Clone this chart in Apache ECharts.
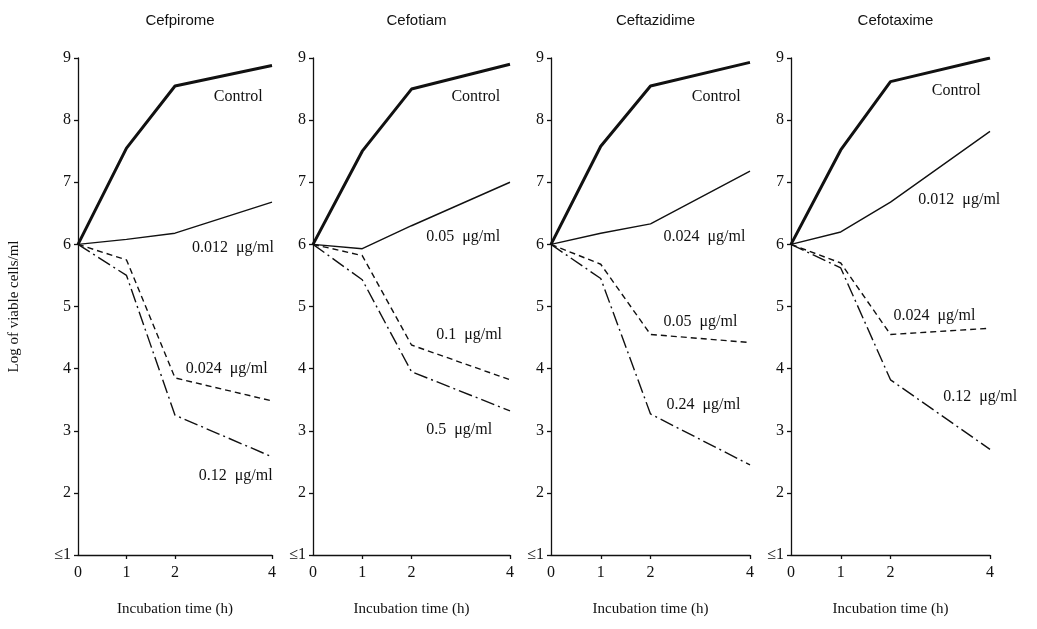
<!DOCTYPE html>
<html lang="en">
<head>
<meta charset="UTF-8">
<title>Time-kill curves</title>
<style>
  html, body { margin: 0; padding: 0; background: #fff; }
  #chart { width: 1037px; height: 629px; }
</style>
</head>
<body>
<div id="chart"></div>
<script src="https://cdn.jsdelivr.net/npm/echarts@6/dist/echarts.min.js"></script>
<script>
// incubation time points (h)
var times = [0, 1, 2, 4];
var drugs = ['Cefpirome', 'Cefotiam', 'Ceftazidime', 'Cefotaxime'];

// log of viable cells/ml, one row per drug
var control = [
    [6, 7.55, 8.55, 8.88],
    [6, 7.5, 8.5, 8.9],
    [6, 7.58, 8.55, 8.93],
    [6, 7.52, 8.62, 9.0]
];
var lowDose = [
    [6, 6.08, 6.18, 6.68],
    [6, 5.93, 6.3, 7.0],
    [6, 6.18, 6.33, 7.18],
    [6, 6.2, 6.68, 7.82]
];
var midDose = [
    [6, 5.75, 3.85, 3.48],
    [6, 5.82, 4.38, 3.82],
    [6, 5.68, 4.55, 4.42],
    [6, 5.7, 4.55, 4.65]
];
var highDose = [
    [6, 5.5, 3.25, 2.58],
    [6, 5.43, 3.95, 3.32],
    [6, 5.45, 3.27, 2.45],
    [6, 5.62, 3.82, 2.7]
];
var lowName = ['0.012  \u03bcg/ml', '0.05  \u03bcg/ml', '0.024  \u03bcg/ml', '0.012  \u03bcg/ml'];
var midName = ['0.024  \u03bcg/ml', '0.1  \u03bcg/ml', '0.05  \u03bcg/ml', '0.024  \u03bcg/ml'];
var highName = ['0.12  \u03bcg/ml', '0.5  \u03bcg/ml', '0.24  \u03bcg/ml', '0.12  \u03bcg/ml'];

// layout: grid boxes and where the curve labels sit (data coords)
var gridLeft = [78, 313, 551, 791];
var gridWidth = [194, 197, 199, 199];
var labelAt = [
    [[2.8, 8.38], [2.35, 5.95], [2.22, 3.99], [2.49, 2.28]],
    [[2.81, 8.38], [2.3, 6.13], [2.5, 4.55], [2.3, 3.02]],
    [[2.83, 8.38], [2.26, 6.13], [2.26, 4.75], [2.32, 3.42]],
    [[2.83, 8.47], [2.56, 6.72], [2.06, 4.85], [3.06, 3.55]]
];

var serif = 'Liberation Serif';
var ink = '#111';

function pairs(vals) {
    return times.map(function (t, i) { return [t, vals[i]]; });
}

function curve(p, name, vals, width, dash, labelPos) {
    return {
        type: 'line',
        name: name,
        xAxisIndex: p,
        yAxisIndex: p,
        data: pairs(vals),
        symbol: 'none',
        silent: true,
        animation: false,
        lineStyle: { color: ink, width: width, type: dash },
        markPoint: {
            symbol: 'circle',
            symbolSize: 0,
            silent: true,
            label: {
                show: true,
                position: 'right',
                distance: 0,
                color: ink,
                fontFamily: serif,
                fontSize: 16,
                formatter: name
            },
            data: [{ coord: labelPos }]
        }
    };
}

var grids = [], xAxes = [], yAxes = [], titles = [], series = [];
for (var p = 0; p < 4; p++) {
    grids.push({ left: gridLeft[p], width: gridWidth[p], top: 58, bottom: 74 });
    titles.push({
        text: drugs[p],
        left: gridLeft[p] + gridWidth[p] / 2,
        textAlign: 'center',
        top: 8,
        textStyle: { fontFamily: 'Liberation Sans', fontSize: 15, fontWeight: 'normal', color: ink }
    });
    xAxes.push({
        type: 'value',
        gridIndex: p,
        min: 0,
        max: 4,
        interval: 1,
        name: 'Incubation time (h)',
        nameLocation: 'middle',
        nameGap: 47,
        nameTextStyle: { fontFamily: serif, fontSize: 15, color: ink },
        axisLine: { lineStyle: { color: ink, width: 1.3 } },
        axisTick: { show: true, length: 4, customValues: [1, 2, 4], lineStyle: { color: ink, width: 1.3 } },
        axisLabel: { customValues: [0, 1, 2, 4], margin: 10, fontFamily: serif, fontSize: 16, color: ink },
        splitLine: { show: false }
    });
    yAxes.push({
        type: 'value',
        gridIndex: p,
        min: 1,
        max: 9,
        interval: 1,
        name: p === 0 ? 'Log of viable cells/ml' : '',
        nameLocation: 'middle',
        nameGap: 56,
        nameTextStyle: { fontFamily: serif, fontSize: 15, color: ink },
        axisLine: { show: true, lineStyle: { color: ink, width: 1.3 } },
        axisTick: { show: true, length: 4, lineStyle: { color: ink, width: 1.3 } },
        axisLabel: {
            margin: 7,
            fontFamily: serif,
            fontSize: 16,
            color: ink,
            formatter: function (v) { return v === 1 ? '\u22641' : String(v); }
        },
        splitLine: { show: false }
    });
    series.push(curve(p, 'Control', control[p], 3, 'solid', labelAt[p][0]));
    series.push(curve(p, lowName[p], lowDose[p], 1.4, 'solid', labelAt[p][1]));
    series.push(curve(p, midName[p], midDose[p], 1.4, [6, 4], labelAt[p][2]));
    series.push(curve(p, highName[p], highDose[p], 1.4, [14, 4, 2, 4], labelAt[p][3]));
}

var chart = echarts.init(document.getElementById('chart'));
chart.setOption({
    backgroundColor: '#fff',
    animation: false,
    title: titles,
    grid: grids,
    xAxis: xAxes,
    yAxis: yAxes,
    series: series
});
</script>
</body>
</html>
